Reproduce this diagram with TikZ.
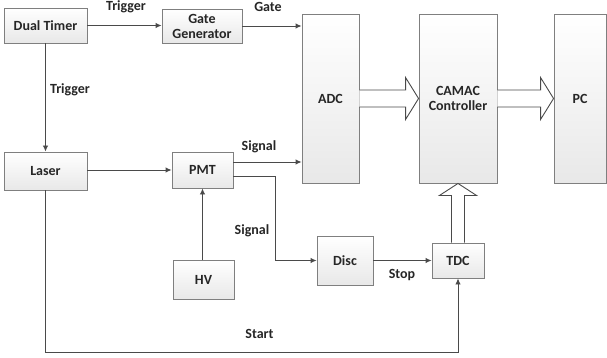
\documentclass[tikz,border=0pt]{standalone}
\usepackage{fontspec}
\setmainfont{Carlito}
\usetikzlibrary{arrows.meta,calc}
\definecolor{boxline}{HTML}{7F7F7F}
\definecolor{conline}{HTML}{4A4A4A}
\definecolor{txt}{HTML}{262626}
\tikzset{
  blk/.style={draw=boxline, line width=0.9pt, top color=white, bottom color=gray!18,
    inner sep=0pt, align=center, text=txt, font=\fontsize{14}{16}\selectfont\bfseries},
  con/.style={draw=conline, line width=0.9pt, -{Latex[length=6pt,width=5.5pt]}},
  plain/.style={draw=conline, line width=0.9pt},
  lbl/.style={inner sep=0pt, text=txt, font=\fontsize{14}{16}\selectfont\bfseries},
  bigarrow/.style={draw=conline, line width=0.9pt, fill=white, line join=miter}
}
\begin{document}
\begin{tikzpicture}[x=1pt,y=-1pt]
\useasboundingbox (0,0) rectangle (607,358);
\node[blk, minimum width=83pt, minimum height=35pt] (dt) at (45.5,25.5) {Dual Timer};
\node[blk, minimum width=80pt, minimum height=34pt] (gg) at (202,26) {Gate\\[-1pt]Generator};
\node[blk, minimum width=57pt, minimum height=169pt] (adc) at (330.5,98.5) {ADC};
\node[blk, minimum width=78pt, minimum height=169pt] (camac) at (458,98.5) {CAMAC\\[-1pt]Controller};
\node[blk, minimum width=52pt, minimum height=169pt] (pc) at (580,98.5) {PC};
\node[blk, minimum width=83pt, minimum height=38pt] (laser) at (45.5,171) {Laser};
\node[blk, minimum width=61pt, minimum height=36pt] (pmt) at (202.5,170) {PMT};
\node[blk, minimum width=61pt, minimum height=39pt] (hv) at (203.5,279.5) {HV};
\node[blk, minimum width=56pt, minimum height=49pt] (disc) at (345,260.5) {Disc};
\node[blk, minimum width=52pt, minimum height=35pt] (tdc) at (458,260.5) {TDC};

\coordinate (bend) at (275,176);
\coordinate (startc) at (45.5,352);

% thin connectors
\draw[con] (dt.east) -- (dt.east -| gg.west);
\draw[con] (gg.east) -- (gg.east -| adc.west);
\draw[con] (dt.south) -- (laser.north);
\draw[con] (laser.east |- pmt.west) -- (pmt.west);
\draw[con] ([yshift=8pt]pmt.east) -- ([yshift=8pt]pmt.east -| adc.west);
\draw[con] (pmt.east |- bend) -- (bend) |- (disc.west);
\draw[con] (hv.north -| pmt.south) -- (pmt.south);
\draw[con] (disc.east) -- (disc.east -| tdc.west);
\draw[con] (laser.south) -- (startc) -| (tdc.south);

% big block arrows
\draw[bigarrow] ([yshift=8.5pt]adc.east) -- ([xshift=-13pt,yshift=8.5pt]camac.west) -- ([xshift=-13pt,yshift=21pt]camac.west) -- (camac.west) -- ([xshift=-13pt,yshift=-21pt]camac.west) -- ([xshift=-13pt,yshift=-8.5pt]camac.west) -- ([yshift=-8.5pt]adc.east);
\draw[bigarrow] ([yshift=8.5pt]camac.east) -- ([xshift=-13pt,yshift=8.5pt]pc.west) -- ([xshift=-13pt,yshift=21pt]pc.west) -- (pc.west) -- ([xshift=-13pt,yshift=-21pt]pc.west) -- ([xshift=-13pt,yshift=-8.5pt]pc.west) -- ([yshift=-8.5pt]camac.east);
\draw[bigarrow] ([xshift=-6.5pt]tdc.north) -- ([xshift=-6.5pt,yshift=-12pt]camac.south) -- ([xshift=-18.5pt,yshift=-12pt]camac.south) -- (camac.south) -- ([xshift=18.5pt,yshift=-12pt]camac.south) -- ([xshift=6.5pt,yshift=-12pt]camac.south) -- ([xshift=6.5pt]tdc.north);

% labels
\node[lbl] (l1) at (126,7) {Trigger};
\node[lbl] (l2) at (268,6.5) {Gate};
\node[lbl] (l3) at (70,90) {Trigger};
\node[lbl] (l4) at (259,147) {Signal};
\node[lbl] (l5) at (252,231) {Signal};
\node[lbl] (l6) at (402,275) {Stop};
\node[lbl] (l7) at (259.5,334) {Start};
\end{tikzpicture}
\end{document}
